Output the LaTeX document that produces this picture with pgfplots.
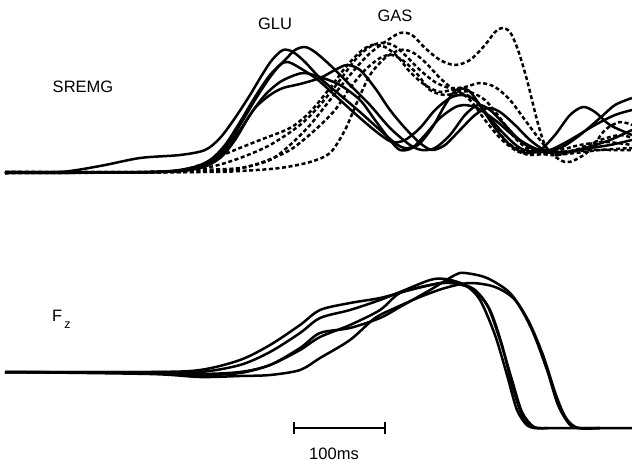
\documentclass[border=0pt]{standalone}
\usepackage{pgfplots}
\pgfplotsset{compat=1.18}
\usepackage{fontspec}
\setmainfont{Liberation Sans}
\begin{document}
\begin{tikzpicture}
\begin{axis}[
  width=632pt, height=467pt, scale only axis,
  xmin=0, xmax=632, ymin=0, ymax=467, y dir=reverse,
  hide axis, clip=false,
  cycle list={{black}},
  every axis plot/.append style={black, line width=2.5pt, smooth, tension=0.5, no marks, line join=round},
  gas/.style={black, line width=2.5pt, smooth, tension=0.5, dash pattern=on 4pt off 2.6pt},
  glu/.style={black, line width=2.5pt, smooth, tension=0.5, solid},
]
% ---- SREMG: GLU (solid)
\addplot[glu] coordinates {(5,172)(60,172)(100,166)(140,158)(180,155)(205,150)(220,138)(235,118)(250,95)(262,75)(272,60)(283,50)(293,52)(305,62)(320,78)(340,95)(360,112)(380,130)(395,143)(405,148)(418,145)(432,128)(445,105)(456,90)(468,90)(480,105)(495,128)(510,145)(525,153)(540,150)(555,135)(570,115)(583,107)(595,112)(610,125)(632,135)};
\addplot[glu] coordinates {(5,173)(150,172)(190,168)(210,160)(225,145)(240,122)(255,97)(270,75)(285,60)(295,50)(305,47)(315,52)(330,65)(350,85)(370,105)(390,128)(410,145)(422,150)(435,148)(450,135)(465,115)(478,105)(490,110)(505,125)(520,140)(540,150)(560,148)(580,135)(600,118)(615,105)(632,98)};
\addplot[glu] coordinates {(5,172)(150,172)(190,169)(210,162)(225,148)(240,125)(255,100)(268,80)(280,65)(288,62)(300,68)(318,80)(340,100)(360,118)(378,133)(392,142)(405,140)(420,128)(435,110)(450,98)(462,95)(475,100)(490,118)(505,135)(520,148)(535,152)(550,150)(570,140)(595,125)(615,115)(632,110)};
\addplot[glu] coordinates {(5,173)(160,172)(200,168)(220,158)(235,140)(250,115)(265,95)(280,82)(295,75)(305,73)(320,77)(340,85)(360,100)(375,120)(390,140)(400,150)(412,148)(425,135)(440,118)(458,106)(475,107)(495,120)(515,137)(535,150)(560,153)(585,148)(610,140)(632,130)};
\addplot[glu] coordinates {(5,172)(160,172)(200,167)(220,155)(240,130)(255,108)(270,95)(283,88)(300,84)(320,78)(335,70)(347,65)(360,70)(375,88)(390,110)(405,128)(420,143)(432,150)(445,145)(460,130)(475,115)(488,108)(500,112)(515,125)(530,140)(545,150)(565,152)(590,148)(610,145)(632,140)};
% ---- SREMG: GAS (dashed)
\addplot[gas] coordinates {(5,172)(150,172)(200,170)(240,168)(270,160)(290,145)(310,125)(330,100)(350,75)(368,55)(385,42)(400,33)(412,35)(425,48)(440,60)(455,65)(470,60)(485,45)(495,32)(502,28)(510,32)(518,50)(527,80)(537,120)(545,145)(555,155)(570,152)(590,150)(610,150)(632,150)};
\addplot[gas] coordinates {(5,173)(170,172)(210,167)(240,158)(270,145)(300,125)(320,105)(340,80)(355,60)(368,48)(380,43)(393,45)(405,55)(420,70)(435,82)(450,88)(465,87)(480,83)(495,87)(510,100)(525,120)(540,140)(553,155)(565,162)(575,160)(590,150)(605,130)(620,122)(632,125)};
\addplot[gas] coordinates {(5,172)(160,172)(200,165)(230,152)(260,140)(290,128)(310,112)(330,88)(345,68)(360,52)(372,45)(385,47)(398,57)(410,72)(425,85)(440,92)(455,90)(470,100)(485,120)(500,138)(515,150)(530,155)(550,153)(575,150)(600,140)(620,135)(632,138)};
\addplot[gas] coordinates {(5,173)(180,172)(230,170)(260,163)(290,150)(315,130)(335,110)(350,88)(365,70)(380,58)(392,55)(405,62)(418,75)(430,90)(445,95)(460,93)(475,100)(490,120)(505,140)(520,150)(540,152)(560,150)(580,145)(605,142)(632,145)};
\addplot[gas] coordinates {(5,172)(200,172)(240,171)(280,168)(310,162)(330,153)(345,130)(358,100)(370,75)(385,58)(400,50)(412,52)(425,62)(440,78)(455,90)(470,92)(485,100)(500,118)(515,138)(530,150)(550,155)(575,153)(600,150)(632,148)};
% ---- Fz
\addplot[glu] coordinates {(5,372)(150,372)(200,370)(240,360)(270,345)(300,325)(320,310)(350,303)(380,298)(410,290)(440,283)(455,282)(475,290)(490,310)(502,345)(512,385)(522,415)(532,427)(545,428)(632,428)};
\addplot[glu] coordinates {(5,372)(150,372)(200,372)(240,365)(270,352)(300,333)(320,318)(350,310)(380,300)(400,292)(430,280)(445,279)(465,285)(480,300)(495,335)(507,375)(517,410)(528,426)(540,428)};
\addplot[glu] coordinates {(5,372)(150,373)(200,375)(240,373)(270,365)(300,350)(320,337)(350,325)(380,310)(400,293)(430,285)(450,283)(470,288)(487,305)(500,340)(512,380)(522,412)(534,427)(548,428)};
\addplot[glu] coordinates {(5,372)(150,373)(200,374)(240,372)(270,365)(300,348)(320,333)(350,328)(380,318)(400,307)(430,290)(455,275)(465,273)(487,278)(510,293)(528,320)(543,355)(556,395)(566,418)(578,428)(600,428)};
\addplot[glu] coordinates {(5,372)(150,374)(200,377)(240,376)(270,375)(300,370)(320,358)(350,340)(375,318)(395,308)(420,297)(445,288)(470,283)(495,287)(515,300)(532,330)(547,370)(558,405)(570,425)(580,428)(600,428)};
% ---- scale bar
\addplot[black, line width=2.6pt, sharp plot] coordinates {(294,428)(385,428)};
\addplot[black, line width=2.6pt, sharp plot] coordinates {(294,422)(294,434)};
\addplot[black, line width=2.6pt, sharp plot] coordinates {(385,422)(385,434)};
% ---- labels
\node[font=\fontsize{16.5}{19}\selectfont] at (axis cs:334,454) {100ms};
\node[font=\fontsize{16.5}{19}\selectfont] at (axis cs:83,87) {SREMG};
\node[font=\fontsize{16.5}{19}\selectfont] at (axis cs:275,24) {GLU};
\node[font=\fontsize{16.5}{19}\selectfont] at (axis cs:395,16) {GAS};
\node[font=\fontsize{16.5}{19}\selectfont, anchor=base west, inner sep=0pt] at (axis cs:52,321) {F\kern2pt\raisebox{-7pt}{\fontsize{12.5}{14}\selectfont z}};
\coordinate (BL) at (axis cs:0,467);
\coordinate (TR) at (axis cs:632,0);
\end{axis}
\pgfresetboundingbox
\path[use as bounding box] (BL) rectangle (TR);
\end{tikzpicture}
\end{document}
